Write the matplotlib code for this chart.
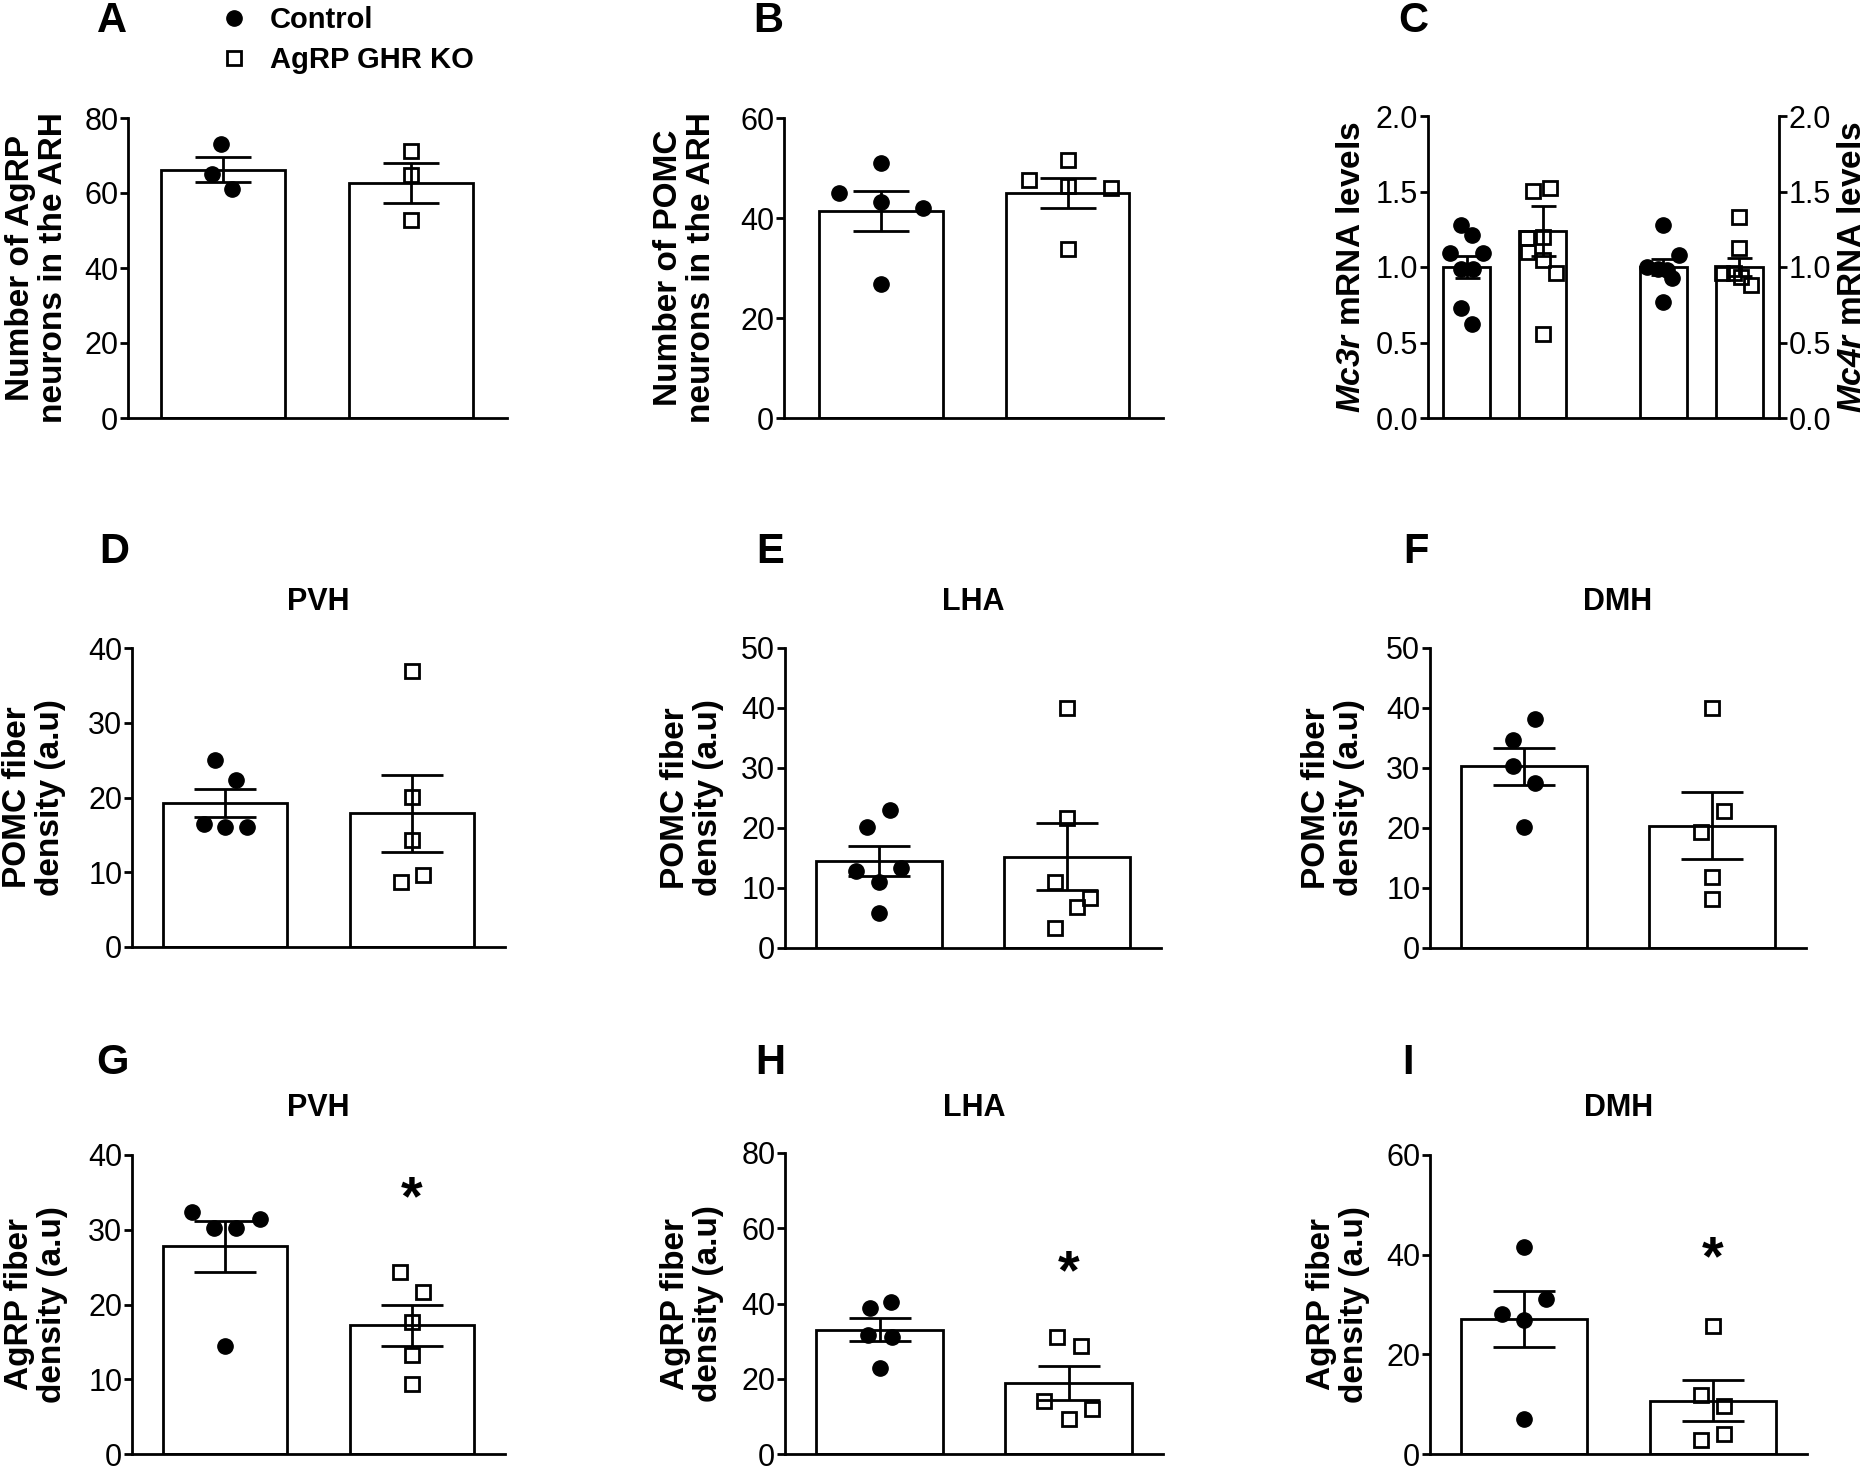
import numpy as np
import matplotlib
matplotlib.use('Agg')
import matplotlib.pyplot as plt
from matplotlib.lines import Line2D

plt.rcParams['font.family'] = ['Liberation Sans', 'DejaVu Sans']
plt.rcParams['mathtext.fontset'] = 'custom'
plt.rcParams['mathtext.rm'] = 'Liberation Sans'
plt.rcParams['mathtext.bfit'] = 'Liberation Sans:italic:bold'

W, H = 1867, 1470

# ---- data ----
# A: AgRP neurons in ARH
a_ctrl = [73.1, 65.1, 61.1]
a_ko = [71.1, 64.9, 52.8]
a_mean = [66.2, 62.6]
a_sem = [3.4, 5.3]
# B: POMC neurons in ARH
b_ctrl = [51.1, 45.1, 43.2, 42.0, 26.9]
b_ko = [51.6, 47.6, 46.5, 46.0, 33.9]
b_mean = [41.5, 45.0]
b_sem = [4.0, 3.0]
# C: Mc3r / Mc4r mRNA
c_mc3_ctrl = [1.278, 1.212, 1.09, 1.095, 0.99, 0.99, 0.726, 0.62]
c_mc3_ko = [1.505, 1.52, 1.19, 1.20, 1.10, 1.045, 0.96, 0.556]
c_mc4_ctrl = [1.278, 1.08, 1.0, 0.99, 0.98, 0.93, 0.77]
c_mc4_ko = [1.333, 1.123, 0.957, 0.957, 0.935, 0.88]
c_mean = [1.0, 1.24, 1.0, 1.0]
c_sem = [0.075, 0.165, 0.05, 0.06]
# D-F: POMC fiber density
d_ctrl = [25.0, 22.4, 16.4, 16.0, 16.1]
d_ko = [36.9, 20.1, 14.3, 9.6, 8.7]
d_mean = [19.3, 17.9]
d_sem = [1.85, 5.15]
e_ctrl = [23.0, 20.1, 12.9, 13.4, 11.0, 5.8]
e_ko = [40.0, 21.7, 11.0, 8.4, 6.8, 3.4]
e_mean = [14.5, 15.2]
e_sem = [2.55, 5.55]
f_ctrl = [38.2, 34.7, 30.4, 27.5, 20.2]
f_ko = [40.0, 22.8, 19.3, 11.9, 8.1]
f_mean = [30.3, 20.4]
f_sem = [3.1, 5.55]
# G-I: AgRP fiber density
g_ctrl = [32.4, 30.3, 30.3, 31.5, 14.4]
g_ko = [24.3, 21.7, 17.7, 13.3, 9.3]
g_mean = [27.8, 17.2]
g_sem = [3.4, 2.8]
h_ctrl = [40.4, 38.7, 31.6, 31.2, 22.9]
h_ko = [31.2, 28.8, 14.2, 11.9, 9.2]
h_mean = [33.0, 18.9]
h_sem = [3.05, 4.5]
i_ctrl = [41.6, 31.2, 28.0, 26.9, 7.0]
i_ko = [25.7, 11.9, 9.7, 4.0, 2.8]
i_mean = [27.1, 10.7]
i_sem = [5.6, 4.15]
# significance marks (height in data units)
star_y = {'G': 34.0, 'H': 47.9, 'I': 38.8}

# horizontal scatter of the dots inside each bar (fraction of bar spacing)
a_dx = ([-0.013, -0.056, 0.047], [0, 0, 0])
b_dx = ([0, -0.226, 0, 0.222, 0], [0, -0.21, 0, 0.23, 0])
c_dx = ([-0.07, 0.07, -0.22, 0.21, -0.07, 0.08, -0.07, 0.07],
        [-0.13, 0.10, -0.21, 0, -0.19, 0, 0.18, 0],
        [0, 0.2, -0.21, -0.07, 0.05, 0.11, 0],
        [0, 0, -0.22, -0.07, 0.03, 0.16])
d_dx = ([-0.057, 0.057, -0.114, 0, 0.114], [0, 0, 0, 0.063, -0.057])
e_dx = ([0.06, -0.064, -0.12, 0.117, 0, 0], [0, 0, -0.063, 0.124, 0.055, -0.063])
f_dx = ([0.059, -0.059, -0.059, 0.061, 0], [0, 0.063, -0.057, 0, 0])
g_dx = ([-0.176, -0.061, 0.057, 0.184, 0], [-0.061, 0.063, 0, 0, 0])
h_dx = ([0.059, -0.049, -0.059, 0.065, 0], [-0.061, 0.067, -0.127, 0.124, 0])
i_dx = ([0, 0.118, -0.118, 0, 0], [0, -0.062, 0.062, 0.062, -0.062])


def rect(l, t, r, b):
    return [l / W, 1 - b / H, (r - l) / W, (b - t) / H]


def draw_bars(ax, pos, means, sems, groups, offsets, kinds, width=0.66, cap=20):
    ax.bar(pos, means, width=width, color='white', edgecolor='black', linewidth=2.0, zorder=1)
    for p, vals, dx, k in zip(pos, groups, offsets, kinds):
        x = p + np.array(dx)
        if k == 'ctrl':
            ax.plot(x, vals, 'o', ms=11, color='black', ls='none', zorder=2, clip_on=False)
        else:
            ax.plot(x, vals, 's', ms=10.5, mfc='none', mec='black', mew=2, ls='none', zorder=2, clip_on=False)
    ax.errorbar(pos, means, yerr=sems, fmt='none', ecolor='black', elinewidth=2,
                capsize=cap, capthick=2, zorder=3)


def style(ax, ylim, yticks, fmt='{:g}'):
    ax.set_ylim(*ylim)
    ax.set_yticks(yticks)
    ax.set_yticklabels([fmt.format(t) for t in yticks])
    ax.spines[['top', 'right']].set_visible(False)
    for s in ('left', 'bottom'):
        ax.spines[s].set_linewidth(2)
    ax.set_xticks([])
    ax.tick_params(axis='y', length=6, width=2, labelsize=22, pad=1)


fig = plt.figure(figsize=(W / 100, H / 100), dpi=100)

lab_kw = dict(fontsize=24, fontweight='bold', linespacing=1.08)

# A
ax = fig.add_axes(rect(128, 118, 507, 418))
draw_bars(ax, [0, 1], a_mean, a_sem, [a_ctrl, a_ko], a_dx, ['ctrl', 'ko'])
ax.set_xlim(-0.505, 1.51)
style(ax, (0, 80), [0, 20, 40, 60, 80])
ax.set_ylabel('Number of AgRP\nneurons in the ARH', **lab_kw)
ax.yaxis.set_label_coords(-0.155, 0.5)

# B
ax = fig.add_axes(rect(784, 118, 1163, 418))
draw_bars(ax, [0, 1], b_mean, b_sem, [b_ctrl, b_ko], b_dx, ['ctrl', 'ko'])
ax.set_xlim(-0.52, 1.51)
style(ax, (0, 60), [0, 20, 40, 60])
ax.set_ylabel('Number of POMC\nneurons in the ARH', **lab_kw)
ax.yaxis.set_label_coords(-0.178, 0.5)

# C
ax = fig.add_axes(rect(1428, 116, 1779, 418))
c_pos = [0, 1, 2.59, 3.585]
draw_bars(ax, c_pos, c_mean, c_sem, [c_mc3_ctrl, c_mc3_ko, c_mc4_ctrl, c_mc4_ko], c_dx,
          ['ctrl', 'ko', 'ctrl', 'ko'], width=0.62, cap=9)
ax.set_xlim(-0.507, 4.11)
style(ax, (0, 2.0), [0, 0.5, 1.0, 1.5, 2.0], fmt='{:.1f}')
ax.set_ylabel(r'$\mathbfit{Mc3r}$ mRNA levels', **lab_kw)
ax.yaxis.set_label_coords(-0.174, 0.5)
ax2 = ax.twinx()
ax2.set_ylim(0, 2.0)
ax2.set_yticks([0, 0.5, 1.0, 1.5, 2.0])
ax2.set_yticklabels(['0.0', '0.5', '1.0', '1.5', '2.0'])
ax2.spines[['top', 'left', 'bottom']].set_visible(False)
ax2.spines['right'].set_linewidth(2)
ax2.tick_params(axis='y', length=6, width=2, labelsize=22, pad=1)
ax2.set_ylabel(r'$\mathbfit{Mc4r}$ mRNA levels', **lab_kw)
ax2.yaxis.set_label_coords(1.166, 0.5)

# D, E, F
row2 = [
    ('D', rect(132, 648, 505, 947), d_mean, d_sem, d_ctrl, d_ko, d_dx, (0, 40), [0, 10, 20, 30, 40], 'PVH', -0.177),
    ('E', rect(785, 648, 1161, 948), e_mean, e_sem, e_ctrl, e_ko, e_dx, (0, 50), [0, 10, 20, 30, 40, 50], 'LHA', -0.163),
    ('F', rect(1430, 648, 1806, 948), f_mean, f_sem, f_ctrl, f_ko, f_dx, (0, 50), [0, 10, 20, 30, 40, 50], 'DMH', -0.174),
]
row3 = [
    ('G', rect(132, 1155, 505, 1454), g_mean, g_sem, g_ctrl, g_ko, g_dx, (0, 40), [0, 10, 20, 30, 40], 'PVH', -0.172),
    ('H', rect(785, 1153, 1163, 1454), h_mean, h_sem, h_ctrl, h_ko, h_dx, (0, 80), [0, 20, 40, 60, 80], 'LHA', -0.162),
    ('I', rect(1430, 1155, 1807, 1454), i_mean, i_sem, i_ctrl, i_ko, i_dx, (0, 60), [0, 20, 40, 60], 'DMH', -0.159),
]

for rows, ylab, title_y in ((row2, 'POMC fiber\ndensity (a.u)', 602), (row3, 'AgRP fiber\ndensity (a.u)', 1108)):
    for key, r, m, s, ctrl, ko, dx, ylim, yt, title, lx in rows:
        ax = fig.add_axes(r)
        draw_bars(ax, [0, 1], m, s, [ctrl, ko], dx, ['ctrl', 'ko'], width=0.667, cap=22)
        ax.set_xlim(-0.5, 1.5)
        style(ax, ylim, yt)
        ax.set_ylabel(ylab, **lab_kw)
        ax.yaxis.set_label_coords(lx, 0.5)
        cx = (r[0] + r[2] / 2)
        fig.text(cx, 1 - title_y / H, title, fontsize=22, fontweight='bold', ha='center', va='center')
        if key in star_y:
            ax.text(1, star_y[key], '*', fontsize=40, fontweight='bold', ha='center', va='center')

# panel letters
for letter, x, y in [('A', 112, 21), ('B', 768, 21), ('C', 1413, 21),
                     ('D', 114, 552), ('E', 770, 552), ('F', 1416, 552),
                     ('G', 112, 1063), ('H', 770, 1063), ('I', 1408, 1063)]:
    fig.text(x / W, 1 - y / H, letter, fontsize=30, fontweight='bold', ha='center', va='center')

# legend
handles = [Line2D([], [], marker='o', ls='none', color='black', ms=11),
           Line2D([], [], marker='s', ls='none', mfc='none', mec='black', mew=2, ms=10.5)]
fig.legend(handles, ['Control', 'AgRP GHR KO'], loc='upper left',
           bbox_to_anchor=(222 / W, 1 - 6 / H), frameon=False, borderpad=0, borderaxespad=0,
           handlelength=0.8, handletextpad=0.85, labelspacing=0.42,
           prop={'size': 21, 'weight': 'bold'})

fig.savefig('out.png', dpi=100)
